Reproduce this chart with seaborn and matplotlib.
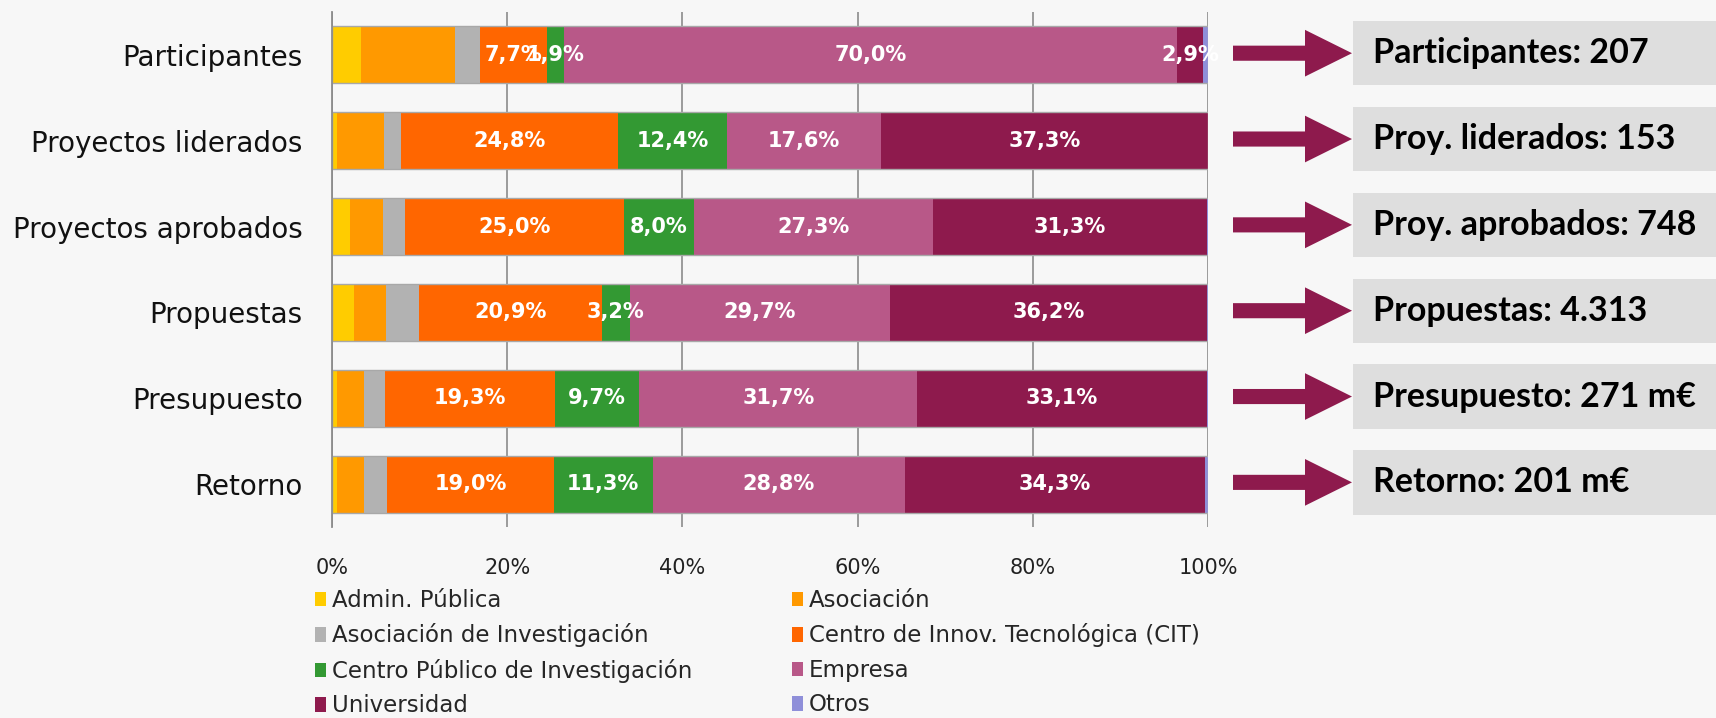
import numpy as np
import pandas as pd
import matplotlib
matplotlib.use("Agg")
import matplotlib.pyplot as plt
import seaborn as sns
from matplotlib.patches import Patch, Rectangle, Polygon
from matplotlib.transforms import blended_transform_factory

# categories (rows) and participant types (stacked segments), values in %
rows = ["Participantes", "Proyectos liderados", "Proyectos aprobados",
        "Propuestas", "Presupuesto", "Retorno"]
groups = ["Admin. Pública", "Asociación", "Asociación de Investigación",
          "Centro de Innov. Tecnológica (CIT)", "Centro Público de Investigación",
          "Empresa", "Universidad", "Otros"]
colors = ["#ffcc00", "#ff9900", "#b2b2b2", "#ff6600",
          "#339933", "#b85888", "#8e1a4d", "#8f8fd9"]

admin_publica = [3.3, 0.6, 2.0, 2.5, 0.6, 0.6]
asociacion = [10.7, 5.3, 3.8, 3.7, 3.0, 3.1]
asoc_investigacion = [2.9, 2.0, 2.5, 3.7, 2.5, 2.6]
cit = [7.7, 24.8, 25.0, 20.9, 19.3, 19.0]
cpi = [1.9, 12.4, 8.0, 3.2, 9.7, 11.3]
empresa = [70.0, 17.6, 27.3, 29.7, 31.7, 28.8]
universidad = [2.9, 37.3, 31.3, 36.2, 33.1, 34.3]
otros = [0.6, 0.0, 0.2, 0.1, 0.2, 0.3]

# segments that carry a percentage label
labelled = ["Centro de Innov. Tecnológica (CIT)", "Centro Público de Investigación",
            "Empresa", "Universidad"]

# totals shown in the boxes on the right
box_names = ["Participantes", "Proy. liderados", "Proy. aprobados",
             "Propuestas", "Presupuesto", "Retorno"]
box_totals = ["207", "153", "748", "4.313", "271 m€", "201 m€"]

df = pd.DataFrame(dict(zip(groups, [admin_publica, asociacion, asoc_investigacion, cit,
                                    cpi, empresa, universidad, otros])), index=rows)
cum = df.cumsum(axis=1)

sns.set_style("white")
plt.rcParams["font.family"] = ["DejaVu Sans"]
bg = "#f7f7f7"
W, H = 1716, 718

fig = plt.figure(figsize=(W / 100, H / 100), dpi=100, facecolor=bg)
ax = fig.add_axes([332 / W, 1 - 527 / H, 876 / W, 515 / H], facecolor=bg)

# stacked bars: draw cumulative totals from longest to shortest
for g, c in reversed(list(zip(groups, colors))):
    sns.barplot(x=cum[g].values, y=rows, color=c, orient="h", width=0.665,
                linewidth=0, saturation=1, ax=ax)
sns.barplot(x=cum[groups[-1]].values, y=rows, color="#a8a8a8", fill=False, orient="h",
            width=0.665, linewidth=1, ax=ax)

for g in labelled:
    for i, r in enumerate(rows):
        v = df.loc[r, g]
        ax.text(cum.loc[r, g] - v / 2, i, f"{v:.1f}%".replace(".", ","),
                ha="center", va="center", color="white", fontsize=15, fontweight="bold")

ax.set_xlim(0, 100)
ax.set_ylim(5.5, -0.5)
ax.set_xticks(range(0, 101, 20))
ax.set_xticklabels([f"{t}%" for t in range(0, 101, 20)])
ax.set_xlabel("")
ax.set_ylabel("")
ax.grid(axis="x", color="#8c8c8c", linewidth=1.2)
ax.grid(axis="y", visible=False)
ax.set_axisbelow(True)
for s in ["top", "right", "bottom"]:
    ax.spines[s].set_visible(False)
ax.spines["left"].set_color("#8c8c8c")
ax.spines["left"].set_linewidth(1.3)
ax.tick_params(axis="x", length=0, pad=22, labelsize=15, labelcolor="#222222")
ax.tick_params(axis="y", which="major", length=0, pad=21, labelsize=20, labelcolor="#111111")
ax.set_yticks(np.arange(-0.5, 6, 1), minor=True)
ax.tick_params(axis="y", which="minor", length=7.5, width=1.3, color="#8c8c8c")

# arrows and total boxes on the right
blend = blended_transform_factory(fig.transFigure, ax.transData)
xs, xb, xt = 1233 / W, 1305 / W, 1352 / W
for i, (n, t) in enumerate(zip(box_names, box_totals)):
    yc = i - 0.02
    fig.add_artist(Rectangle((1353 / W, yc - 0.375), 1 - 1353 / W, 0.75,
                             transform=blend, facecolor="#dedede", edgecolor="none",
                             clip_on=False))
    fig.add_artist(Polygon([(xs, yc - 0.088), (xb, yc - 0.088), (xb, yc - 0.272),
                            (xt, yc), (xb, yc + 0.272), (xb, yc + 0.088),
                            (xs, yc + 0.088)], closed=True, transform=blend,
                           facecolor="#8e1a4d", edgecolor="none", clip_on=False))
    fig.text(1373 / W, yc, f"{n}: {t}", transform=blend, ha="left", va="center",
             fontsize=24.5, fontweight="bold", family=["Lato", "DejaVu Sans"], color="black")

# legend in two columns below the axis
handles = [Patch(facecolor=c, edgecolor="none", label=g) for g, c in zip(groups, colors)]
common = dict(loc="upper left", frameon=False, fontsize=16.5, borderpad=0,
              borderaxespad=0, handlelength=0.5, handleheight=0.6, handletextpad=0.25,
              labelspacing=0.5)
leg1 = fig.legend(handles=handles[0::2], bbox_to_anchor=(315 / W, 1 - 589 / H), **common)
leg2 = fig.legend(handles=handles[1::2], bbox_to_anchor=(792 / W, 1 - 589 / H), **common)

fig.savefig("out.png", dpi=100, facecolor=bg)
